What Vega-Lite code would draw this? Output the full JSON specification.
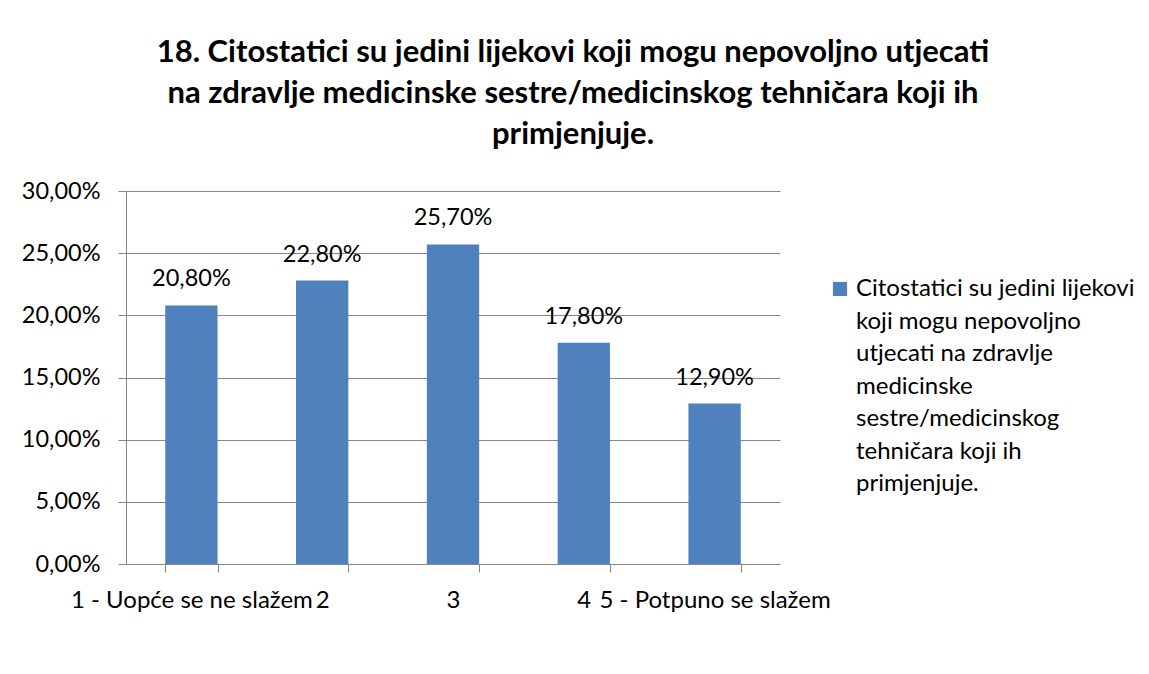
{
  "$schema": "https://vega.github.io/schema/vega-lite/v6.json",
  "width": 654,
  "height": 373,
  "autosize": "none",
  "padding": {"left": 126, "top": 191, "right": 369, "bottom": 110},
  "background": "white",
  "title": {
    "text": ["18. Citostatici su jedini lijekovi koji mogu nepovoljno utjecati", "na zdravlje medicinske sestre/medicinskog tehničara koji ih", "primjenjuje."],
    "font": "Lato",
    "fontSize": 31,
    "fontWeight": "bold",
    "lineHeight": 41,
    "color": "black",
    "anchor": "middle",
    "frame": "group",
    "dx": 120,
    "offset": 28
  },
  "data": {
    "values": [
      {"odgovor": "1 - Uopće se ne slažem", "udio": 0.208, "serija": "Citostatici su jedini lijekovi koji mogu nepovoljno utjecati na zdravlje medicinske sestre/medicinskog tehničara koji ih primjenjuje."},
      {"odgovor": "2", "udio": 0.228, "serija": "Citostatici su jedini lijekovi koji mogu nepovoljno utjecati na zdravlje medicinske sestre/medicinskog tehničara koji ih primjenjuje."},
      {"odgovor": "3", "udio": 0.257, "serija": "Citostatici su jedini lijekovi koji mogu nepovoljno utjecati na zdravlje medicinske sestre/medicinskog tehničara koji ih primjenjuje."},
      {"odgovor": "4", "udio": 0.178, "serija": "Citostatici su jedini lijekovi koji mogu nepovoljno utjecati na zdravlje medicinske sestre/medicinskog tehničara koji ih primjenjuje."},
      {"odgovor": "5 - Potpuno se slažem", "udio": 0.129, "serija": "Citostatici su jedini lijekovi koji mogu nepovoljno utjecati na zdravlje medicinske sestre/medicinskog tehničara koji ih primjenjuje."}
    ]
  },
  "encoding": {
    "x": {
      "field": "odgovor",
      "type": "nominal",
      "sort": null,
      "title": null,
      "scale": {"paddingInner": 0.6, "paddingOuter": 0.3},
      "axis": {
        "labelAngle": 0,
        "labelFont": "Lato",
        "labelFontSize": 24,
        "labelColor": "black",
        "labelOverlap": false,
        "labelBound": false,
        "labelLimit": 0,
        "labelPadding": 16,
        "tickBand": "extent",
        "tickSize": 8,
        "tickColor": "#868686",
        "domainColor": "#868686",
        "grid": false
      }
    },
    "y": {
      "field": "udio",
      "type": "quantitative",
      "title": null,
      "scale": {"domain": [0, 0.3], "nice": false},
      "axis": {
        "values": [0, 0.05, 0.1, 0.15, 0.2, 0.25, 0.3],
        "format": ".2%",
        "labelFont": "Lato",
        "labelFontSize": 23.5,
        "labelColor": "black",
        "labelPadding": 18,
        "tickSize": 8,
        "tickColor": "#868686",
        "domainColor": "#868686",
        "grid": true,
        "gridColor": "#868686",
        "gridOpacity": 1
      }
    }
  },
  "layer": [
    {
      "mark": {"type": "bar"},
      "encoding": {
        "color": {
          "field": "serija",
          "type": "nominal",
          "scale": {"range": ["#4F81BD"]},
          "legend": {
            "title": null,
            "orient": "none",
            "legendX": 702,
            "legendY": 86,
            "symbolType": "square",
            "symbolSize": 200,
            "symbolStrokeWidth": 0,
            "labelFont": "Lato",
            "labelFontSize": 24,
            "labelColor": "black",
            "labelLimit": 0,
            "labelBaseline": "middle",
            "labelOffset": 4,
            "labelExpr": "['Citostatici su jedini lijekovi', 'koji mogu nepovoljno', 'utjecati na zdravlje', 'medicinske', 'sestre/medicinskog', 'tehničara koji ih', 'primjenjuje.']"
          }
        }
      }
    },
    {
      "mark": {"type": "text", "baseline": "alphabetic", "dy": -19, "font": "Lato", "fontSize": 23.5, "color": "black"},
      "encoding": {"text": {"field": "udio", "type": "quantitative", "format": ".2%"}}
    }
  ],
  "config": {
    "locale": {"number": {"decimal": ",", "thousands": ".", "grouping": [3], "currency": ["", " €"]}},
    "view": {"stroke": null},
    "style": {"guide-label": {"lineHeight": 32.5}}
  }
}
